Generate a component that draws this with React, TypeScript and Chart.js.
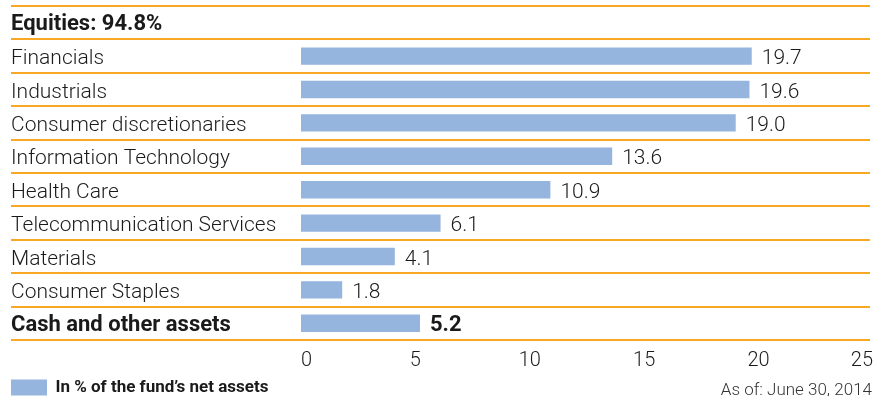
import React, { useEffect, useRef } from 'react';
import { Chart, registerables } from 'chart.js';

Chart.register(...registerables);

const categories = [
  'Equities: 94.8%',
  'Financials',
  'Industrials',
  'Consumer discretionaries',
  'Information Technology',
  'Health Care',
  'Telecommunication Services',
  'Materials',
  'Consumer Staples',
  'Cash and other assets',
];
const values: (number | null)[] = [null, 19.7, 19.6, 19.0, 13.6, 10.9, 6.1, 4.1, 1.8, 5.2];
const boldRows = [0, 9];
const xTicks = [0, 5, 10, 15, 20, 25];
const seriesLabel = 'In % of the fund\u2019s net assets';
const asOfNote = 'As of: June 30, 2014';

const LIGHT = '"Roboto Light", Roboto, "Helvetica Neue", Arial, sans-serif';
const BOLD = 'Roboto, "Helvetica Neue", Arial, sans-serif';
const TEXT = '#1a1a1a';
const BAR = '#95B4DE';
const ORANGE = '#F8A823';

const rowLines = {
  id: 'rowLines',
  beforeDatasetsDraw(chart: any) {
    const y = chart.scales.y;
    const area = chart.chartArea;
    const n = categories.length;
    const step = n > 1 ? y.getPixelForValue(1) - y.getPixelForValue(0) : 0;
    const ctx = chart.ctx;
    ctx.save();
    ctx.strokeStyle = ORANGE;
    ctx.lineWidth = 2;
    for (let i = 0; i <= n; i++) {
      const py = Math.round(y.getPixelForValue(i) - step / 2);
      ctx.beginPath();
      ctx.moveTo(y.left, py);
      ctx.lineTo(area.right - 3, py);
      ctx.stroke();
    }
    ctx.restore();
  },
};

const valueLabels = {
  id: 'valueLabels',
  afterDatasetsDraw(chart: any) {
    const meta = chart.getDatasetMeta(0);
    const ctx = chart.ctx;
    ctx.save();
    ctx.fillStyle = TEXT;
    ctx.textBaseline = 'middle';
    ctx.textAlign = 'left';
    meta.data.forEach((bar: any, i: number) => {
      const v = values[i];
      if (v === null || v === undefined) return;
      const bold = boldRows.includes(i);
      ctx.font = bold ? `bold 22px ${BOLD}` : `300 21px ${LIGHT}`;
      ctx.fillText(v.toFixed(1), bar.x + 10, bar.y + 2);
    });
    ctx.restore();
  },
};

export default function App() {
  const ref = useRef<HTMLCanvasElement | null>(null);

  useEffect(() => {
    if (!ref.current) return;
    const chart = new Chart(ref.current, {
      type: 'bar',
      data: {
        labels: categories,
        datasets: [
          {
            label: seriesLabel,
            data: values,
            backgroundColor: BAR,
            borderWidth: 0,
            categoryPercentage: 1,
            barPercentage: 0.52,
          },
        ],
      },
      options: {
        indexAxis: 'y',
        animation: false,
        responsive: true,
        maintainAspectRatio: false,
        layout: { padding: { left: 11, right: 4, top: 6, bottom: -10 } },
        scales: {
          x: {
            min: 0,
            max: 25,
            position: 'bottom',
            grid: { display: false, drawTicks: false },
            border: { display: false },
            afterBuildTicks: (s: any) => {
              s.ticks = xTicks.map((v) => ({ value: v }));
            },
            afterFit: (s: any) => {
              s.height = 39;
              s.paddingLeft = 0;
              s.paddingRight = 0;
            },
            ticks: {
              align: 'inner',
              padding: 8,
              color: TEXT,
              font: { size: 20, weight: '300', family: LIGHT },
            },
          },
          y: {
            grid: { display: false },
            border: { display: false },
            afterFit: (s: any) => {
              s.width = 290;
              s.paddingTop = 0;
              s.paddingBottom = 0;
            },
            ticks: {
              crossAlign: 'far',
              labelOffset: 2,
              color: TEXT,
              font: (c: any) =>
                boldRows.includes(c.index)
                  ? { size: 22, weight: 'bold', family: BOLD }
                  : { size: 21, weight: '300', family: LIGHT },
            },
          },
        },
        plugins: {
          tooltip: { enabled: false },
          legend: {
            position: 'bottom',
            align: 'start',
            labels: {
              boxWidth: 36,
              boxHeight: 16,
              padding: 0,
              color: TEXT,
              font: { size: 17, weight: 'bold', family: BOLD },
            },
          },
        },
      } as any,
      plugins: [rowLines, valueLabels],
    });
    return () => chart.destroy();
  }, []);

  return (
    <div style={{ position: 'fixed', left: 0, top: 0, width: 877, height: 396, background: '#fff' }}>
      <canvas ref={ref} />
      <div
        style={{
          position: 'absolute',
          right: 5,
          top: 379,
          fontFamily: LIGHT,
          fontSize: 17,
          lineHeight: '20px',
          color: '#333',
        }}
      >
        {asOfNote}
      </div>
    </div>
  );
}
